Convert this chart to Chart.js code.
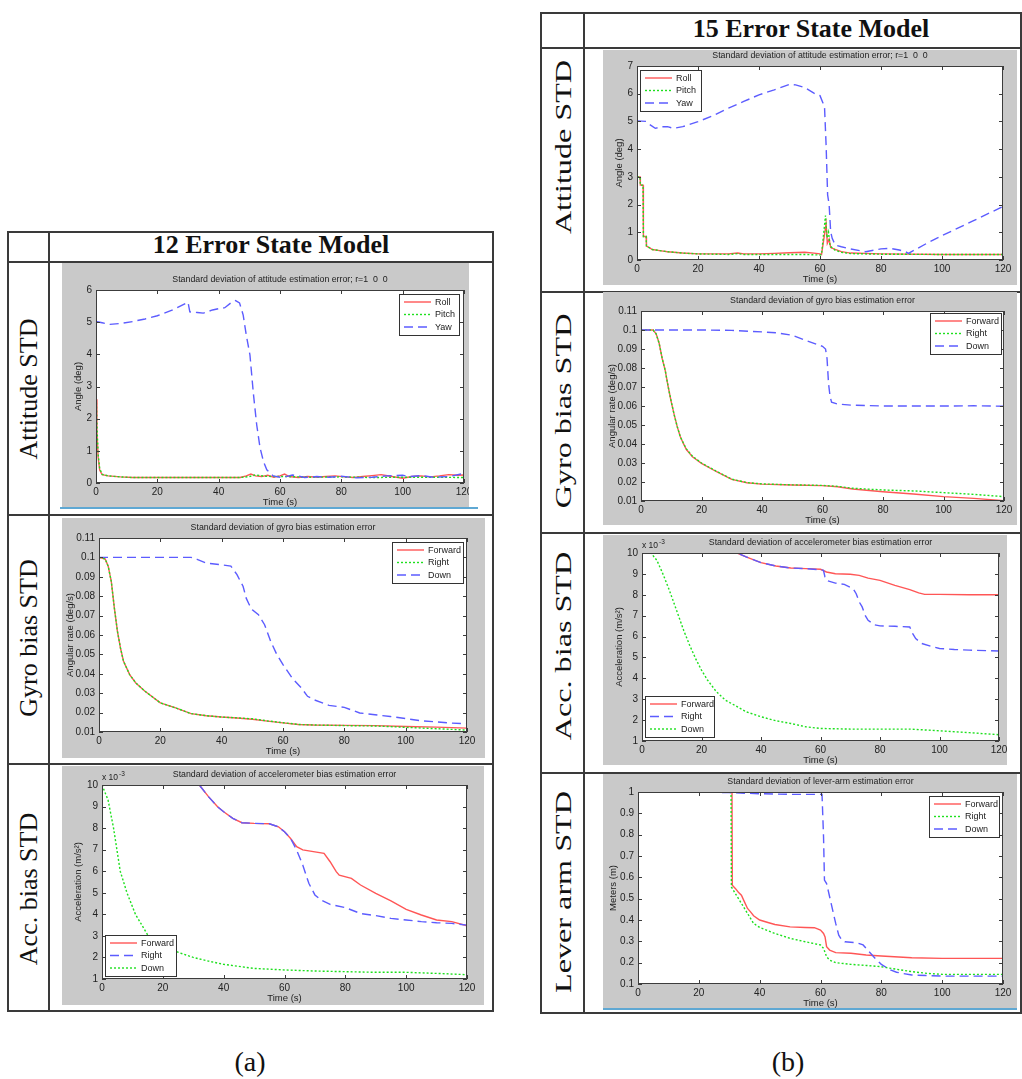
<!DOCTYPE html>
<html>
<head>
<meta charset="utf-8">
<script src="https://cdn.jsdelivr.net/npm/chart.js@4.4.1/dist/chart.umd.min.js"></script>
<style>
  body { margin: 0; width: 1022px; height: 1079px; background: #fff; position: relative; overflow: hidden; font-family: "Liberation Serif", serif; }
  .rule { position: absolute; background: #3a3a3a; }
  .head { position: absolute; font-weight: bold; font-size: 26px; color: #111; white-space: nowrap; transform: translate(-50%, -50%); }
  .rowlab { position: absolute; font-size: 26px; color: #111; white-space: nowrap; }
  .cap { position: absolute; font-size: 28px; color: #111; transform: translate(-50%, -50%); }
  .stripe { position: absolute; height: 2px; background: #5fa8d3; }
  canvas { position: absolute; }
</style>
</head>
<body>
<script>
// ---- tick labels ----
const X_TICKS = [0, 20, 40, 60, 80, 100, 120];
const Y_TICKS_ATT12 = [0, 1, 2, 3, 4, 5, 6];
const Y_TICKS_ATT15 = [0, 1, 2, 3, 4, 5, 6, 7];
const Y_TICKS_GYRO = [0.01, 0.02, 0.03, 0.04, 0.05, 0.06, 0.07, 0.08, 0.09, 0.1, 0.11];
const Y_TICKS_ACC = [1, 2, 3, 4, 5, 6, 7, 8, 9, 10];
const Y_TICKS_LEVER = [0.1, 0.2, 0.3, 0.4, 0.5, 0.6, 0.7, 0.8, 0.9, 1];

// ---- (a) 12 error state model: [time s, value] ----
const a1Roll = [[0,2.6],[0.3,1.6],[0.7,0.8],[1.2,0.4],[2,0.26],[4,0.22],[8,0.19],[12,0.17],[20,0.17],[30,0.17],[40,0.17],[47,0.17],[49,0.22],[50.5,0.28],[52,0.22],[54,0.2],[56,0.24],[58,0.18],[60,0.22],[61.5,0.28],[63,0.2],[66,0.17],[69,0.2],[72,0.18],[75,0.2],[78,0.22],[81,0.19],[84,0.17],[87,0.2],[90,0.23],[93,0.26],[96,0.21],[100,0.15],[103,0.2],[106,0.22],[109,0.19],[112,0.22],[115,0.26],[118,0.24],[120,0.25]];
const a1Pitch = [[0,3.0],[0.3,1.8],[0.7,0.9],[1.2,0.45],[2,0.27],[4,0.22],[8,0.19],[12,0.17],[20,0.17],[30,0.17],[40,0.17],[47,0.17],[50,0.2],[52,0.25],[55,0.21],[58,0.2],[62,0.2],[66,0.19],[70,0.18],[80,0.19],[90,0.17],[100,0.18],[110,0.18],[120,0.17]];
const a1Yaw = [[0,5.02],[2,4.98],[4.5,4.93],[8,4.96],[12,5.02],[16,5.1],[20,5.2],[25,5.38],[30,5.62],[30.6,5.32],[33,5.3],[35,5.28],[38,5.38],[40,5.42],[42,5.45],[44,5.6],[45.5,5.67],[46.8,5.6],[48,5.22],[49,4.6],[50.2,3.98],[51.3,2.8],[52.4,1.81],[53.5,1.09],[54.6,0.67],[55.7,0.41],[57.8,0.22],[60,0.18],[62,0.2],[64,0.25],[66,0.22],[68,0.17],[72,0.2],[76,0.18],[80,0.21],[85,0.16],[90,0.18],[95,0.22],[100,0.24],[102,0.2],[106,0.23],[110,0.18],[115,0.2],[120,0.3]];

const a2Forward = [[0,0.1],[2,0.0992],[3,0.0954],[4,0.0877],[5,0.074],[6,0.062],[7,0.0533],[8,0.0464],[10,0.0396],[12,0.0353],[15,0.031],[20,0.025],[25,0.0224],[30,0.0195],[35,0.0184],[40,0.0177],[45,0.0172],[50,0.0166],[55,0.0156],[60,0.0147],[65,0.0139],[70,0.0136],[80,0.0134],[90,0.0133],[100,0.0128],[110,0.0125],[120,0.012]];
const a2Right = [[0,0.1],[2,0.0992],[3,0.0954],[4,0.0877],[5,0.074],[6,0.062],[7,0.0533],[8,0.0464],[10,0.0396],[12,0.0353],[15,0.031],[20,0.025],[25,0.0224],[30,0.0195],[35,0.0184],[40,0.0177],[45,0.0173],[50,0.0168],[55,0.0157],[60,0.0148],[65,0.0139],[70,0.0136],[80,0.0133],[90,0.0131],[95,0.0128],[100,0.0124],[110,0.0117],[120,0.011]];
const a2Down = [[0,0.1],[30,0.1],[32,0.099],[35,0.0971],[40,0.0962],[43,0.0955],[45,0.0911],[47,0.085],[48,0.079],[49,0.0756],[50,0.073],[52,0.0705],[54,0.0653],[56,0.0567],[58,0.0499],[60,0.0447],[63,0.0378],[66,0.0327],[68,0.0284],[70,0.0267],[75,0.0237],[80,0.0227],[85,0.0198],[90,0.0189],[95,0.018],[100,0.0169],[105,0.0158],[110,0.0152],[115,0.0146],[120,0.0143]];

const a3Forward = [[0,10],[32,10],[35,9.46],[38,8.99],[40,8.76],[43,8.45],[46,8.25],[50,8.22],[55,8.2],[58,8.06],[60,7.83],[62,7.52],[64,7.14],[66,6.99],[70,6.9],[73,6.83],[75,6.44],[77,5.98],[78,5.82],[82,5.67],[85,5.36],[90,4.97],[95,4.62],[100,4.23],[105,3.97],[110,3.74],[115,3.66],[120,3.47]];
const a3Right = [[0,10],[32,10],[35,9.46],[38,8.99],[40,8.76],[43,8.45],[46,8.25],[50,8.22],[55,8.2],[58,8.06],[60,7.83],[62,7.52],[64,6.98],[66,6.29],[68,5.44],[70,4.9],[72,4.66],[75,4.46],[80,4.31],[85,4.04],[90,3.94],[95,3.81],[100,3.74],[105,3.66],[110,3.61],[115,3.58],[120,3.5]];
const a3Down = [[0,10],[2,9.3],[3.8,8.0],[6,6.0],[8.2,5.0],[11,4.0],[15,3.05],[18,2.7],[21,2.45],[24.4,2.27],[30,2.0],[35,1.83],[40,1.68],[50,1.49],[60,1.42],[70,1.37],[80,1.34],[90,1.31],[100,1.31],[110,1.26],[120,1.2]];

// ---- (b) 15 error state model ----
const b1Roll = [[0,3.0],[1,3.0],[1.1,2.7],[2,2.7],[2.1,0.85],[3,0.85],[3.1,0.5],[4,0.45],[5,0.38],[8,0.33],[10,0.3],[15,0.25],[20,0.22],[30,0.22],[33,0.25],[35,0.22],[40,0.22],[45,0.24],[50,0.26],[55,0.28],[58,0.25],[60,0.22],[60.5,0.2],[62,1.3],[62.4,0.6],[63,0.75],[63.5,0.45],[65,0.38],[67,0.3],[70,0.25],[80,0.22],[100,0.2],[120,0.2]];
const b1Pitch = [[0,3.0],[1,3.0],[1.1,2.7],[2,2.7],[2.1,0.85],[3,0.85],[3.1,0.5],[4,0.45],[5,0.38],[8,0.33],[10,0.3],[15,0.25],[20,0.22],[30,0.2],[33,0.23],[35,0.2],[40,0.2],[50,0.2],[55,0.2],[60,0.18],[60.5,0.2],[61.8,1.6],[62.3,0.8],[62.8,1.0],[63.3,0.5],[65,0.35],[67,0.28],[70,0.23],[80,0.21],[100,0.2],[120,0.2]];
const b1Yaw = [[0,5.02],[3,5.0],[4,4.9],[6,4.75],[8,4.81],[10,4.81],[12,4.75],[15,4.81],[20,4.99],[25,5.21],[30,5.48],[35,5.72],[40,5.96],[45,6.14],[50,6.34],[52,6.32],[55,6.22],[58,6.02],[60,5.93],[61,5.66],[61.5,5.48],[62,4.15],[62.5,2.35],[63,1.99],[63.5,1.02],[64,0.78],[65,0.54],[67,0.48],[70,0.4],[75,0.3],[80,0.4],[83,0.42],[86,0.36],[88,0.3],[89,0.24],[95,0.6],[100,0.88],[110,1.4],[120,1.93]];

const b2Forward = [[0,0.1],[4,0.1],[5,0.098],[6,0.093],[7,0.085],[8,0.0788],[9,0.07],[10,0.0622],[11,0.0552],[12,0.049],[13,0.0438],[14,0.0403],[15,0.0371],[17,0.0333],[20,0.0298],[25,0.0254],[30,0.0214],[35,0.0196],[40,0.0189],[50,0.0184],[60,0.0181],[65,0.0175],[70,0.0163],[80,0.0149],[90,0.0137],[100,0.0123],[110,0.0114],[120,0.0102]];
const b2Right = [[0,0.1],[4,0.1],[5,0.098],[6,0.093],[7,0.085],[8,0.0788],[9,0.07],[10,0.0622],[11,0.0552],[12,0.049],[13,0.0438],[14,0.0405],[15,0.0374],[17,0.0336],[20,0.03],[25,0.0256],[30,0.0215],[35,0.0197],[40,0.019],[50,0.0185],[60,0.0182],[65,0.0177],[70,0.0167],[80,0.0158],[90,0.0153],[100,0.0144],[110,0.0135],[120,0.0123]];
const b2Down = [[0,0.1],[20,0.1],[30,0.0998],[40,0.099],[45,0.0985],[50,0.0972],[55,0.0942],[60,0.0914],[61,0.09],[61.5,0.085],[62,0.0718],[62.5,0.065],[63,0.062],[65,0.061],[70,0.0604],[80,0.06],[100,0.06],[110,0.0601],[120,0.0599]];

const b3Forward = [[0,10],[32,10],[35,9.81],[38,9.65],[40,9.54],[45,9.38],[50,9.28],[55,9.25],[60,9.22],[62,9.09],[65,9.01],[70,8.98],[73,8.93],[76,8.8],[80,8.69],[85,8.45],[90,8.25],[93,8.09],[95,8.02],[100,8.02],[110,8.0],[120,8.0]];
const b3Right = [[0,10],[32,10],[35,9.81],[38,9.65],[40,9.54],[45,9.38],[50,9.28],[55,9.25],[60,9.2],[61,9.17],[61.5,8.85],[62,8.69],[65,8.56],[68,8.5],[71,8.29],[72,8.05],[73,7.66],[74,7.42],[75,7.02],[76,6.78],[78,6.57],[80,6.51],[85,6.49],[90,6.46],[91,6.14],[92,5.9],[94,5.67],[97,5.54],[100,5.43],[105,5.38],[110,5.35],[120,5.31]];
const b3Down = [[0,10],[3,10],[5,9.65],[7,9.01],[9,8.29],[10,7.9],[12,7.1],[14,6.3],[16,5.59],[18,4.95],[20,4.39],[22,3.92],[25,3.36],[28,2.96],[30,2.8],[35,2.4],[40,2.16],[45,1.97],[50,1.84],[55,1.68],[60,1.6],[70,1.57],[80,1.57],[90,1.57],[95,1.53],[100,1.49],[110,1.4],[120,1.3]];

const b4Forward = [[0,1],[30.9,1],[31,0.563],[32,0.548],[33,0.53],[34,0.516],[35,0.485],[36,0.454],[37,0.438],[38,0.42],[40,0.4],[43,0.387],[45,0.379],[50,0.368],[55,0.365],[58,0.364],[60,0.353],[61,0.337],[61.5,0.321],[62,0.275],[63,0.259],[65,0.247],[70,0.244],[75,0.236],[80,0.231],[90,0.223],[100,0.22],[120,0.22]];
const b4Right = [[0,1],[30.6,1],[30.7,0.555],[32,0.524],[34,0.478],[36,0.431],[38,0.384],[40,0.365],[45,0.337],[50,0.314],[55,0.298],[60,0.283],[61,0.267],[62,0.228],[63,0.212],[65,0.2],[70,0.192],[75,0.187],[80,0.181],[85,0.169],[90,0.158],[95,0.15],[100,0.145],[120,0.145]];
const b4Down = [[0,1],[20,1],[30,0.997],[40,0.992],[50,0.989],[60.5,0.989],[61,0.79],[61.3,0.587],[62,0.571],[62.5,0.54],[63,0.509],[64,0.446],[65,0.384],[66,0.329],[67,0.306],[68,0.298],[72,0.293],[74,0.283],[76,0.251],[78,0.22],[80,0.192],[83,0.166],[85,0.155],[90,0.142],[100,0.137],[120,0.137]];

const RED = "#ff5656";
const GREEN = "#1ee01e";
const BLUE = "#5c5cff";
const SANS = "'Liberation Sans', Arial, sans-serif";

const solid = (label, data) => ({ label, data, color: RED, dash: [] });
const dotted = (label, data) => ({ label, data, color: GREEN, dash: [2, 2] });
const dashed = (label, data) => ({ label, data, color: BLUE, dash: [9, 5] });

const panels = [
  { box: { x: 62, y: 263, w: 407, h: 244 }, plot: { l: 96, t: 290, r: 464, b: 483 }, yOff: 18,
    title: "Standard deviation of attitude estimation error; r=1  0  0", yLabel: "Angle (deg)",
    yTicks: Y_TICKS_ATT12, legend: { x: 399, y: 294, w: 60 },
    series: [solid("Roll", a1Roll), dotted("Pitch", a1Pitch), dashed("Yaw", a1Yaw)] },
  { box: { x: 62, y: 518, w: 423, h: 240 }, plot: { l: 99, t: 538, r: 467, b: 732 }, yOff: 29,
    title: "Standard deviation of gyro bias estimation error", yLabel: "Angular rate (deg/s)",
    yTicks: Y_TICKS_GYRO, legend: { x: 392, y: 542, w: 71 },
    series: [solid("Forward", a2Forward), dotted("Right", a2Right), dashed("Down", a2Down)] },
  { box: { x: 62, y: 766, w: 422, h: 239 }, plot: { l: 102, t: 785, r: 467, b: 979 }, yOff: 24, exp: true,
    title: "Standard deviation of accelerometer bias estimation error", yLabel: "Acceleration (m/s\u00b2)",
    yTicks: Y_TICKS_ACC, legend: { x: 105, y: 935, w: 71 },
    series: [solid("Forward", a3Forward), dashed("Right", a3Right), dotted("Down", a3Down)] },
  { box: { x: 603, y: 50, w: 414, h: 235 }, plot: { l: 637, t: 66, r: 1003, b: 260 }, yOff: 18,
    title: "Standard deviation of attitude estimation error; r=1  0  0", yLabel: "Angle (deg)",
    yTicks: Y_TICKS_ATT15, legend: { x: 640, y: 70, w: 61 },
    series: [solid("Roll", b1Roll), dotted("Pitch", b1Pitch), dashed("Yaw", b1Yaw)] },
  { box: { x: 603, y: 292, w: 414, h: 233 }, plot: { l: 641, t: 311, r: 1004, b: 501 }, yOff: 29,
    title: "Standard deviation of gyro bias estimation error", yLabel: "Angular rate (deg/s)",
    yTicks: Y_TICKS_GYRO, legend: { x: 930, y: 313, w: 71 },
    series: [solid("Forward", b2Forward), dotted("Right", b2Right), dashed("Down", b2Down)] },
  { box: { x: 603, y: 535, w: 404, h: 230 }, plot: { l: 642, t: 553, r: 999, b: 741 }, yOff: 23, exp: true,
    title: "Standard deviation of accelerometer bias estimation error", yLabel: "Acceleration (m/s\u00b2)",
    yTicks: Y_TICKS_ACC, legend: { x: 645, y: 696, w: 69 },
    series: [solid("Forward", b3Forward), dashed("Right", b3Right), dotted("Down", b3Down)] },
  { box: { x: 603, y: 774, w: 414, h: 234 }, plot: { l: 638, t: 792, r: 1003, b: 984 }, yOff: 25,
    title: "Standard deviation of lever-arm estimation error", yLabel: "Meters (m)",
    yTicks: Y_TICKS_LEVER, legend: { x: 929, y: 796, w: 70 },
    series: [solid("Forward", b4Forward), dotted("Right", b4Right), dashed("Down", b4Down)] }
];

function rule(x, y, w, h) {
  const d = document.createElement("div");
  d.className = "rule";
  d.style.cssText = `left:${x}px;top:${y}px;width:${w}px;height:${h}px`;
  document.body.appendChild(d);
}

function textDiv(cls, text, css) {
  const d = document.createElement("div");
  d.className = cls;
  d.textContent = text;
  d.style.cssText = css;
  document.body.appendChild(d);
}

function drawTables() {
  // (a)
  [231, 261, 514, 763, 1010].forEach((y) => rule(7, y, 487, 2));
  [7, 48, 492].forEach((x) => rule(x, 231, 2, 781));
  textDiv("head", "12 Error State Model", "left:271px;top:245px");
  [["Attitude STD", 389], ["Gyro bias STD", 638], ["Acc. bias STD", 889]].forEach(([t, y]) =>
    textDiv("rowlab", t, `left:29px;top:${y}px;transform:translate(-50%,-50%) rotate(-90deg)`));
  // (b)
  [12, 47, 291, 532, 772, 1012].forEach((y) => rule(540, y, 482, 2));
  [540, 583, 1020].forEach((x) => rule(x, 12, 2, 1002));
  textDiv("head", "15 Error State Model", "left:811px;top:29px");
  [["Attitude STD", 147], ["Gyro bias STD", 411], ["Acc. bias STD", 646], ["Lever arm STD", 892]].forEach(([t, y]) =>
    textDiv("rowlab", t, `left:563px;top:${y}px;font-size:24px;transform:translate(-50%,-50%) rotate(-90deg) scaleX(1.34)`));

  textDiv("cap", "(a)", "left:250px;top:1062px");
  textDiv("cap", "(b)", "left:788px;top:1062px");

  const s1 = document.createElement("div");
  s1.className = "stripe";
  s1.style.cssText = "left:60px;top:507px;width:418px";
  document.body.appendChild(s1);
  const s2 = document.createElement("div");
  s2.className = "stripe";
  s2.style.cssText = "left:603px;top:1008px;width:414px";
  document.body.appendChild(s2);
}

function fmtTick(v) {
  return String(Number(v.toFixed(3)));
}

function panelPlugin(p) {
  const ox = p.box.x, oy = p.box.y;
  return {
    id: "matlabPanel",
    beforeDraw(chart) {
      const ctx = chart.ctx;
      const a = chart.chartArea;
      ctx.save();
      ctx.fillStyle = "#c9c9c9";
      ctx.fillRect(0, 0, chart.width, chart.height);
      ctx.fillStyle = "#fff";
      ctx.fillRect(a.left, a.top, a.right - a.left, a.bottom - a.top);
      ctx.restore();
    },
    afterDatasetsDraw(chart) {
      const ctx = chart.ctx;
      const a = chart.chartArea;
      const xs = chart.scales.x, ys = chart.scales.y;
      ctx.save();
      ctx.strokeStyle = "#3c3c3c";
      ctx.lineWidth = 1;
      ctx.strokeRect(a.left + 0.5, a.top + 0.5, a.right - a.left - 1, a.bottom - a.top - 1);
      ctx.beginPath();
      X_TICKS.forEach((v) => {
        const px = Math.round(xs.getPixelForValue(v)) + 0.5;
        ctx.moveTo(px, a.bottom); ctx.lineTo(px, a.bottom - 4);
        ctx.moveTo(px, a.top); ctx.lineTo(px, a.top + 4);
      });
      p.yTicks.forEach((v) => {
        const py = Math.round(ys.getPixelForValue(v)) + 0.5;
        ctx.moveTo(a.left, py); ctx.lineTo(a.left + 4, py);
        ctx.moveTo(a.right, py); ctx.lineTo(a.right - 4, py);
      });
      ctx.stroke();

      // title and axis labels
      const cx = (a.left + a.right) / 2;
      ctx.fillStyle = "#222";
      ctx.textAlign = "center";
      ctx.textBaseline = "middle";
      ctx.font = `8.8px ${SANS}`;
      ctx.fillText(p.title, cx, a.top - 10);
      ctx.font = `9.5px ${SANS}`;
      ctx.fillText("Time (s)", cx, a.bottom + 19);
      ctx.save();
      ctx.translate(a.left - p.yOff, (a.top + a.bottom) / 2);
      ctx.rotate(-Math.PI / 2);
      ctx.fillText(p.yLabel, 0, 0);
      ctx.restore();
      if (p.exp) {
        ctx.textAlign = "left";
        ctx.font = `8.5px ${SANS}`;
        ctx.fillText("x 10", a.left, a.top - 7);
        const w = ctx.measureText("x 10").width;
        ctx.font = `6.5px ${SANS}`;
        ctx.fillText("-3", a.left + w + 1, a.top - 11);
      }

      // legend box
      const lg = p.legend;
      const lx = lg.x - ox, ly = lg.y - oy, lh = 41;
      ctx.fillStyle = "#fff";
      ctx.fillRect(lx, ly, lg.w, lh);
      ctx.strokeStyle = "#333";
      ctx.strokeRect(lx + 0.5, ly + 0.5, lg.w, lh);
      ctx.font = `9px ${SANS}`;
      ctx.textAlign = "left";
      p.series.forEach((s, i) => {
        const ry = ly + 8 + i * 12.5;
        ctx.strokeStyle = s.color;
        ctx.lineWidth = 1.4;
        ctx.setLineDash(s.dash);
        ctx.beginPath();
        ctx.moveTo(lx + 5, ry); ctx.lineTo(lx + 32, ry);
        ctx.stroke();
        ctx.setLineDash([]);
        ctx.fillStyle = "#222";
        ctx.fillText(s.label, lx + 36, ry + 0.5);
      });
      ctx.restore();
    }
  };
}

function buildChart(p) {
  const canvas = document.createElement("canvas");
  canvas.width = p.box.w;
  canvas.height = p.box.h;
  canvas.style.cssText = `left:${p.box.x}px;top:${p.box.y}px;width:${p.box.w}px;height:${p.box.h}px`;
  document.body.appendChild(canvas);

  const padL = p.plot.l - p.box.x;
  const padT = p.plot.t - p.box.y;
  const padR = p.box.x + p.box.w - p.plot.r;
  const padB = p.box.y + p.box.h - p.plot.b;
  const tickFont = { family: SANS, size: 10 };

  new Chart(canvas, {
    type: "line",
    data: {
      // later series drawn on top, like MATLAB's plot order
      datasets: p.series.map((s, i) => ({
        label: s.label,
        data: s.data.map(([x, y]) => ({ x, y })),
        borderColor: s.color,
        borderWidth: 1.4,
        borderDash: s.dash,
        pointRadius: 0,
        fill: false,
        tension: 0,
        order: p.series.length - i
      }))
    },
    options: {
      responsive: false,
      animation: false,
      devicePixelRatio: 1,
      layout: { padding: { top: padT, right: padR, left: 0, bottom: 0 } },
      plugins: { legend: { display: false }, tooltip: { enabled: false }, title: { display: false } },
      scales: {
        x: {
          type: "linear",
          min: 0,
          max: 120,
          grid: { display: false, drawTicks: false },
          border: { display: false },
          ticks: { font: tickFont, color: "#222", padding: 3, maxRotation: 0, autoSkip: false, callback: fmtTick },
          afterBuildTicks: (scale) => { scale.ticks = X_TICKS.map((v) => ({ value: v })); },
          afterFit: (scale) => { scale.height = padB; scale.paddingLeft = 0; scale.paddingRight = 0; }
        },
        y: {
          type: "linear",
          min: p.yTicks[0],
          max: p.yTicks[p.yTicks.length - 1],
          grid: { display: false, drawTicks: false },
          border: { display: false },
          ticks: { font: tickFont, color: "#222", padding: 4, autoSkip: false, callback: fmtTick },
          afterBuildTicks: (scale) => { scale.ticks = p.yTicks.map((v) => ({ value: v })); },
          afterFit: (scale) => { scale.width = padL; scale.paddingTop = 0; scale.paddingBottom = 0; }
        }
      }
    },
    plugins: [panelPlugin(p)]
  });
}

drawTables();
panels.forEach(buildChart);
</script>
</body>
</html>
